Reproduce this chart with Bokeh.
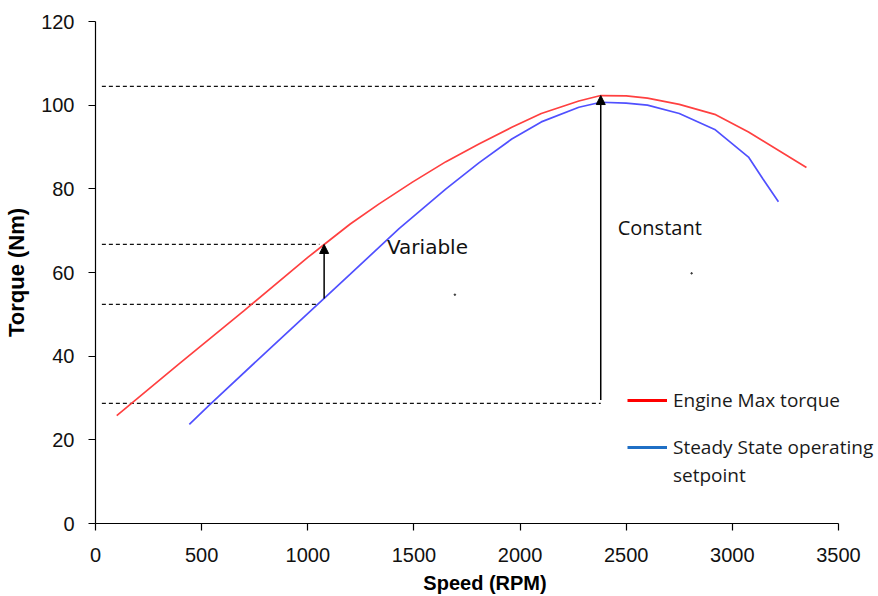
from bokeh.plotting import figure
from bokeh.models import Range1d, Arrow, NormalHead, Legend, LegendItem, FixedTicker
from bokeh.core.properties import value
from bokeh.embed import file_html
from bokeh.resources import INLINE

# ---- data ----
max_speed = [100, 395, 700, 1000, 1077, 1200, 1336, 1493, 1651, 1806, 1961, 2100, 2277, 2380, 2500, 2600, 2750, 2917, 3076, 3349]
max_torque = [25.8, 38.2, 50.9, 63.6, 66.7, 71.6, 76.4, 81.6, 86.5, 90.7, 94.7, 98.0, 101.0, 102.3, 102.2, 101.7, 100.2, 97.8, 93.6, 85.1]

ss_speed = [442, 536, 800, 1077, 1200, 1430, 1651, 1806, 1961, 2100, 2277, 2380, 2500, 2600, 2750, 2917, 3076, 3145, 3217]
ss_torque = [23.7, 28.3, 40.8, 53.8, 59.6, 70.5, 80.0, 86.2, 91.9, 96.0, 99.5, 100.7, 100.5, 100.0, 98.0, 94.2, 87.6, 82.3, 76.9]

guide_y = [104.5, 66.7, 52.4, 28.7]
guide_x0 = [30, 30, 30, 30]
guide_x1 = [2350, 1055, 1040, 2380]

arrow_x = [1077, 2380]
arrow_y0 = [53.8, 29.5]
arrow_y1 = [66.7, 102.3]

note_text = ["Variable", "Constant"]
note_x = [1373, 2460]
note_y = [66.0, 70.8]
note_font = ["DejaVu Sans", "Open Sans"]
note_size = ["20px", "20px"]

dot_x = [1693, 2808]
dot_y = [54.7, 59.8]

x_ticks = [0, 500, 1000, 1500, 2000, 2500, 3000, 3500]
y_ticks = [0, 20, 40, 60, 80, 100, 120]
x_axis_max = 3500
y_axis_max = 120

series_names = ["Engine Max torque", "Steady State operating", "setpoint"]

# layout: plot frame from fig x 95 to 874; the drawn x axis stops at 3500 (fig x 838)
W, H = 876, 596
left, top, bottom = 95, 21, 73
axis_right = 838
frame_right = W - 2
x_end = x_axis_max * (frame_right - left) / (axis_right - left)

p = figure(width=W, height=H, output_backend="svg", toolbar_location=None,
           x_range=Range1d(0, x_end), y_range=Range1d(0, y_axis_max),
           min_border_left=left, min_border_right=W - frame_right,
           min_border_top=top, min_border_bottom=bottom)
p.outline_line_color = None
p.xgrid.visible = False
p.ygrid.visible = False
p.background_fill_color = "white"

for ax in (p.xaxis[0], p.yaxis[0]):
    ax.axis_line_color = "black"
    ax.axis_line_width = 1.2
    ax.major_tick_line_color = "black"
    ax.major_tick_line_width = 1.2
    ax.major_tick_in = 0
    ax.major_tick_out = 7
    ax.minor_tick_line_color = None
    ax.major_label_text_font = "Liberation Sans"
    ax.major_label_text_font_size = "20px"
    ax.major_label_text_color = "#111111"
    ax.axis_label_text_font = "Liberation Sans"
    ax.axis_label_text_font_style = "bold"
    ax.axis_label_text_color = "black"

p.xaxis.bounds = (0, x_axis_max)
p.xaxis.ticker = FixedTicker(ticks=x_ticks)
p.yaxis.ticker = FixedTicker(ticks=y_ticks)
p.xaxis.axis_label = "Speed (RPM)"
p.yaxis.axis_label = "Torque (Nm)"
p.xaxis.axis_label_text_font_size = "20px"
p.yaxis.axis_label_text_font_size = "22px"
p.xaxis.major_label_standoff = 17
p.yaxis.major_label_standoff = 14
p.xaxis.axis_label_standoff = 7
p.yaxis.axis_label_standoff = 9

# dashed guide lines
p.segment(x0=guide_x0, y0=guide_y, x1=guide_x1, y1=guide_y,
          line_color="#111111", line_width=1.3, line_dash="4 3")

# curves
p.line(max_speed, max_torque, line_color="#ff4040", line_width=1.7)
p.line(ss_speed, ss_torque, line_color="#5050ff", line_width=1.7)

# arrows
for i in range(len(arrow_x)):
    p.add_layout(Arrow(end=NormalHead(size=9, fill_color="black", line_color="black"),
                       x_start=arrow_x[i], y_start=arrow_y0[i],
                       x_end=arrow_x[i], y_end=arrow_y1[i],
                       line_color="black", line_width=1.5))

# notes
for i in range(len(note_text)):
    p.text(x=[note_x[i]], y=[note_y[i]], text=[note_text[i]],
           text_font=value(note_font[i]), text_font_size=note_size[i],
           text_color="#111111", text_align="left", text_baseline="middle")

p.scatter(dot_x, dot_y, size=1.5, color="#333333")

# legend (renderers kept outside the visible ranges carry the legend styling)
r1 = p.line([-900, -800], [-50, -50], line_color="#ff0000", line_width=3)
r2 = p.line([-900, -800], [-50, -50], line_color="#1f6fc5", line_width=3)
r3 = p.line([-900, -800], [-50, -50], line_alpha=0)

legend_style = dict(orientation="vertical", glyph_width=40, glyph_height=20,
                    label_standoff=6, padding=0, margin=0, border_line_color=None,
                    background_fill_alpha=0, label_text_font="Open Sans",
                    label_text_font_size="19px", label_text_color="#1a1a1a")
legend_a = Legend(items=[LegendItem(label=series_names[0], renderers=[r1])],
                  location=(532, 110), spacing=0, **legend_style)
legend_b = Legend(items=[LegendItem(label=series_names[1], renderers=[r2]),
                         LegendItem(label=series_names[2], renderers=[r3])],
                  location=(532, 35), spacing=2, **legend_style)
p.add_layout(legend_a)
p.add_layout(legend_b)

open("out.html", "w").write(file_html(p, INLINE))
